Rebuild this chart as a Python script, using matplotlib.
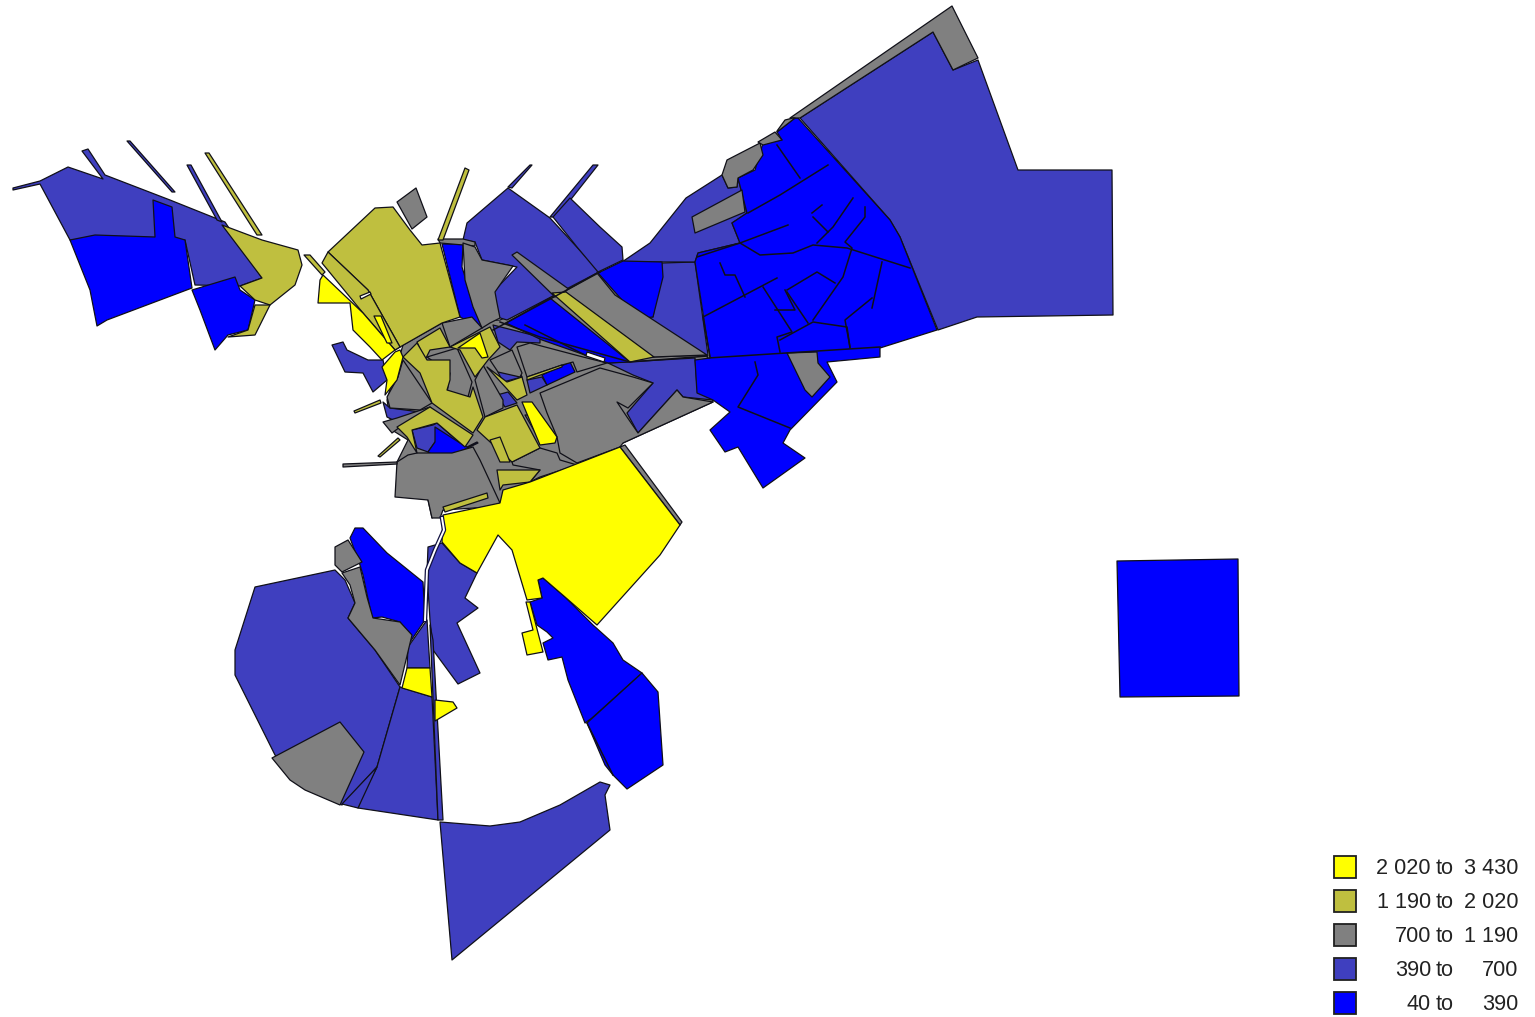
import matplotlib
matplotlib.use('Agg')
import matplotlib.pyplot as plt
from matplotlib.patches import Rectangle

plt.rcParams['font.family'] = ['Liberation Sans', 'DejaVu Sans']

# colores de las clases
AMARILLO = '#ffff00'
OLIVA = '#bfbf3f'
GRIS = '#808080'
AZUL_MEDIO = '#3f3fbf'
AZUL = '#0000ff'

# leyenda
clases_desde = ['2 020', '1 190', '700', '390', '40']
clases_hasta = ['3 430', '2 020', '1 190', '700', '390']
clases_color = [AMARILLO, OLIVA, GRIS, AZUL_MEDIO, AZUL]

# manzanas chicas del centro que van debajo de todo, tapan las juntas
zonas_fondo = [
    [(403, 345), (442, 323), (500, 320), (600, 275), (707, 355), (713, 402), (623, 443), (500, 503), (443, 510), (432, 518), (428, 500), (397, 462), (408, 440), (392, 430), (387, 400)],
]

zonas_azul_medio = [
    [(800, 118), (933, 32), (953, 70), (978, 60), (1018, 170), (1112, 170), (1113, 315), (977, 317), (938, 330), (900, 237), (890, 220)],
    [(13, 188), (40, 181), (68, 167), (103, 179), (82, 151), (88, 149), (105, 175), (170, 200), (225, 222), (262, 278), (240, 286), (195, 285), (185, 240), (70, 240), (40, 184), (13, 190)],
    [(127, 141), (130, 141), (175, 192), (172, 192)],
    [(187, 165), (191, 165), (222, 222), (217, 220)],
    [(467, 223), (508, 188), (550, 218), (598, 270), (597, 273), (507, 320), (497, 317), (493, 292), (517, 267), (482, 260), (475, 242), (463, 240)],
    [(508, 187), (530, 165), (532, 165), (512, 188)],
    [(550, 217), (593, 165), (598, 165), (557, 217)],
    [(570, 198), (600, 227), (622, 247), (623, 260), (598, 272), (577, 247), (553, 217)],
    [(493, 325), (540, 337), (540, 343), (517, 342), (510, 350), (498, 342)],
    [(662, 263), (695, 262), (708, 355), (653, 357), (620, 300), (653, 317)],
    [(622, 262), (650, 243), (686, 198), (722, 175), (728, 188), (737, 187), (738, 178), (747, 213), (732, 223), (740, 243), (698, 253), (695, 262), (660, 262)],
    [(608, 363), (695, 358), (697, 387), (713, 400), (683, 397), (677, 390), (638, 433), (627, 413), (653, 383), (633, 375)],
    [(527, 380), (542, 377), (547, 385), (530, 393)],
    [(498, 372), (517, 367), (522, 377), (503, 382)],
    [(497, 395), (508, 392), (517, 403), (505, 407)],
    [(332, 345), (343, 342), (347, 350), (368, 360), (383, 360), (387, 380), (373, 392), (363, 373), (345, 372)],
    [(383, 402), (390, 408), (420, 412), (420, 417), (397, 422), (387, 417)],
    [(412, 430), (433, 425), (437, 423), (460, 443), (435, 442), (428, 452), (417, 448)],
    [(438, 488), (458, 485), (462, 500), (443, 505)],
    [(255, 587), (335, 570), (345, 580), (355, 603), (348, 618), (375, 650), (400, 687), (377, 767), (342, 805), (305, 787), (275, 755), (235, 675), (235, 650)],
    [(400, 687), (432, 697), (438, 820), (358, 808), (362, 797), (377, 767)],
    [(377, 767), (358, 808), (342, 804)],
    [(427, 620), (430, 668), (407, 668), (408, 647)],
    [(428, 547), (442, 543), (460, 563), (477, 573), (465, 598), (478, 608), (457, 623), (480, 673), (458, 684), (433, 650), (430, 620), (427, 573)],
    [(430, 625), (433, 640), (443, 820), (438, 820)],
    [(440, 822), (490, 826), (520, 822), (560, 805), (600, 782), (610, 785), (605, 795), (610, 830), (452, 960)],
]

zonas_azul = [
    [(70, 240), (95, 235), (155, 237), (153, 200), (172, 207), (175, 237), (185, 240), (192, 288), (107, 320), (97, 326), (90, 290)],
    [(192, 290), (235, 277), (240, 290), (255, 300), (248, 330), (228, 335), (215, 350), (200, 310)],
    [(442, 244), (463, 244), (462, 267), (472, 300), (482, 328), (460, 317)],
    [(506, 323), (550, 298), (630, 362), (608, 363), (585, 355), (542, 340)],
    [(598, 273), (623, 261), (662, 262), (663, 277), (653, 317), (643, 318), (622, 300)],
    [(542, 375), (570, 362), (575, 372), (547, 385)],
    [(435, 427), (460, 443), (467, 447), (477, 442), (478, 443), (453, 455), (433, 455), (428, 452), (435, 442)],
    [(350, 538), (355, 528), (363, 528), (387, 553), (423, 582), (425, 620), (408, 645), (410, 635), (400, 622), (382, 617), (372, 618), (363, 575), (360, 565)],
    [(530, 602), (542, 598), (538, 580), (543, 578), (565, 597), (593, 625), (613, 643), (623, 660), (642, 673), (592, 718), (585, 723), (568, 680), (562, 657), (548, 660), (543, 643), (553, 638), (547, 632), (537, 625)],
    [(642, 673), (658, 692), (663, 765), (627, 789), (613, 775), (605, 765), (587, 723)],
    [(1117, 561), (1238, 559), (1239, 696), (1120, 697)],
    [(795, 118), (798, 118), (890, 220), (900, 237), (937, 330), (880, 348), (880, 357), (827, 362), (837, 382), (790, 430), (783, 443), (805, 458), (763, 488), (738, 447), (725, 452), (710, 430), (730, 412), (713, 400), (697, 393), (695, 360), (710, 358), (695, 262), (698, 253), (740, 243), (732, 223), (747, 213), (738, 178), (755, 170), (763, 143), (782, 140), (777, 132)],
]

zonas_gris = [
    [(790, 118), (952, 6), (978, 58), (953, 70), (933, 32), (800, 118)],
    [(397, 202), (416, 188), (427, 217), (412, 229)],
    [(438, 239), (463, 239), (475, 242), (475, 246), (440, 243)],
    [(463, 243), (475, 247), (482, 260), (513, 266), (495, 292), (497, 303), (500, 318), (490, 323), (482, 328), (473, 307), (465, 280)],
    [(512, 255), (517, 252), (570, 290), (555, 297)],
    [(567, 290), (597, 273), (615, 295), (707, 355), (653, 357), (565, 292)],
    [(540, 393), (600, 368), (633, 377), (653, 383), (628, 408), (617, 402), (627, 417), (638, 433), (677, 390), (683, 397), (713, 402), (623, 443), (620, 447), (577, 463), (560, 453), (557, 437), (547, 413)],
    [(517, 347), (530, 343), (583, 357), (607, 363), (577, 372), (573, 362), (562, 365), (527, 377)],
    [(442, 323), (472, 317), (482, 328), (450, 347)],
    [(427, 357), (457, 348), (472, 382), (468, 397), (447, 393), (450, 373)],
    [(475, 380), (483, 365), (503, 400), (503, 408), (485, 417)],
    [(490, 360), (512, 350), (522, 373), (520, 377), (498, 372)],
    [(403, 360), (432, 403), (420, 410), (390, 408), (387, 397), (398, 377)],
    [(383, 422), (397, 418), (430, 407), (442, 417), (400, 427), (392, 433)],
    [(395, 497), (397, 462), (408, 455), (417, 453), (452, 453), (473, 447), (480, 460), (500, 503), (490, 507), (443, 510), (440, 518), (432, 518), (428, 500)],
    [(343, 464), (397, 462), (397, 464), (343, 467)],
    [(512, 462), (540, 448), (557, 453), (560, 460), (577, 465), (540, 477), (530, 482), (540, 470), (513, 465)],
    [(620, 447), (625, 445), (682, 522), (680, 525)],
    [(335, 565), (335, 547), (348, 540), (362, 562), (342, 572)],
    [(342, 573), (360, 567), (367, 597), (373, 618), (400, 622), (412, 635), (400, 685), (375, 650), (348, 618), (355, 603), (350, 585)],
    [(272, 758), (340, 722), (364, 752), (340, 805), (305, 790), (290, 780)],
    [(787, 353), (817, 352), (818, 363), (830, 377), (812, 397), (805, 390)],
    [(692, 217), (742, 190), (745, 212), (695, 233)],
    [(722, 175), (727, 160), (760, 143), (763, 155), (753, 170), (738, 178), (737, 187), (728, 188)],
    [(758, 142), (775, 132), (782, 140), (763, 145)],
    [(777, 131), (785, 120), (793, 118), (795, 118), (777, 132)],
    [(525, 415), (530, 415), (540, 432), (535, 432)],
    [(368, 290), (375, 298), (400, 347), (395, 350)],
]

zonas_oliva = [
    [(222, 225), (262, 240), (298, 250), (302, 265), (295, 285), (270, 305), (255, 300), (240, 286), (262, 278)],
    [(255, 305), (270, 305), (255, 335), (228, 337), (248, 330)],
    [(205, 153), (209, 153), (262, 235), (257, 235)],
    [(328, 252), (375, 208), (393, 207), (410, 230), (422, 245), (440, 243), (460, 317), (442, 323), (400, 347), (368, 290)],
    [(322, 263), (328, 252), (368, 290), (400, 347), (395, 350), (363, 313)],
    [(438, 240), (465, 168), (469, 170), (443, 240)],
    [(552, 293), (566, 292), (654, 357), (630, 362)],
    [(527, 377), (562, 365), (562, 367), (527, 380)],
    [(417, 342), (440, 328), (450, 347), (430, 350), (425, 360)],
    [(403, 357), (417, 343), (427, 360), (450, 360), (450, 380), (447, 390), (470, 397), (473, 387), (483, 417), (473, 433), (432, 403), (420, 373)],
    [(450, 347), (490, 327), (500, 347), (488, 360), (475, 377), (460, 350)],
    [(487, 367), (507, 382), (522, 377), (527, 395), (517, 400)],
    [(485, 417), (517, 405), (540, 448), (512, 462), (477, 430)],
    [(397, 427), (430, 407), (473, 435), (465, 447), (437, 423), (412, 430), (417, 453), (407, 437)],
    [(443, 507), (487, 493), (488, 498), (445, 512)],
    [(497, 470), (540, 470), (530, 482), (503, 485), (500, 490)],
    [(490, 440), (500, 437), (510, 462), (500, 462)],
    [(354, 411), (380, 400), (381, 403), (355, 413)],
    [(378, 456), (398, 438), (400, 440), (380, 457)],
    [(304, 255), (310, 255), (325, 272), (322, 275)],
]

zonas_amarillo = [
    [(320, 280), (318, 303), (350, 303), (353, 330), (370, 347), (382, 360), (395, 350), (363, 313), (323, 275)],
    [(400, 350), (403, 357), (397, 380), (385, 395), (387, 380), (382, 367), (395, 352)],
    [(458, 348), (480, 333), (488, 357), (482, 358), (475, 348)],
    [(522, 402), (532, 402), (557, 437), (555, 443), (540, 445)],
    [(443, 515), (500, 503), (503, 490), (530, 482), (620, 447), (680, 525), (660, 555), (597, 625), (565, 597), (543, 578), (538, 580), (542, 598), (527, 600), (512, 550), (498, 535), (477, 573), (460, 563), (442, 542)],
    [(526, 602), (530, 602), (543, 652), (527, 655), (522, 633), (533, 630)],
    [(407, 668), (430, 668), (432, 697), (402, 688)],
    [(435, 700), (453, 702), (457, 708), (435, 721)],
    [(374, 316), (381, 316), (392, 343), (387, 343)],
]

huecos_blancos = [
    [(587, 352), (605, 358), (604, 362), (586, 356)],
    [(360, 296), (370, 292), (371, 294), (361, 299)],
]

# calles y limites interiores
limites = [
    [(697, 257), (740, 243), (760, 255), (793, 253), (813, 245), (847, 248), (910, 268)],
    [(777, 145), (800, 178)],
    [(748, 213), (780, 195), (828, 165)],
    [(740, 243), (788, 225)],
    [(853, 198), (833, 227), (817, 243)],
    [(865, 207), (865, 217), (845, 242), (852, 248), (843, 277), (813, 320)],
    [(812, 213), (822, 205)],
    [(813, 217), (828, 232)],
    [(882, 262), (872, 308)],
    [(872, 298), (845, 320), (850, 347)],
    [(720, 263), (725, 275), (735, 275), (745, 297)],
    [(703, 317), (777, 278)],
    [(703, 317), (710, 357)],
    [(763, 287), (792, 332), (777, 337), (780, 352)],
    [(775, 310), (795, 310), (785, 290)],
    [(787, 290), (817, 272), (835, 283)],
    [(787, 292), (808, 323)],
    [(780, 340), (813, 322), (847, 327), (850, 348)],
    [(708, 358), (880, 347)],
    [(755, 362), (758, 375), (738, 407), (790, 428)],
    [(493, 330), (600, 272)],
    [(500, 322), (540, 337), (630, 362), (708, 356)],
    [(525, 325), (585, 355)],
    [(587, 723), (613, 775)],
]
rio = [(442, 518), (444, 530), (435, 550), (427, 570), (425, 620)]


def dibuja_zonas(ax, zonas, color):
    for zona in zonas:
        xs, ys = zip(*zona)
        ax.fill(xs, ys, facecolor=color, edgecolor='#101018', linewidth=0.9, joinstyle='round')


fig = plt.figure(figsize=(15.35, 10.17), dpi=100)
ax = fig.add_axes([0, 0, 1, 1])
ax.set_xlim(0, 1535)
ax.set_ylim(1017, 0)
ax.axis('off')

dibuja_zonas(ax, zonas_fondo, GRIS)
dibuja_zonas(ax, zonas_azul_medio, AZUL_MEDIO)
dibuja_zonas(ax, zonas_azul, AZUL)
dibuja_zonas(ax, zonas_gris, GRIS)
dibuja_zonas(ax, zonas_oliva, OLIVA)
dibuja_zonas(ax, zonas_amarillo, AMARILLO)
dibuja_zonas(ax, huecos_blancos, 'white')

for limite in limites:
    xs, ys = zip(*limite)
    ax.plot(xs, ys, color='#101018', linewidth=1.1)

xs, ys = zip(*rio)
ax.plot(xs, ys, color='#101040', linewidth=3.2)
ax.plot(xs, ys, color='white', linewidth=1.4)

# leyenda
for i, color in enumerate(clases_color):
    y = 869 + i * 34
    ax.add_patch(Rectangle((1334, y - 13), 22, 22, facecolor=color, edgecolor='#202020', linewidth=1.3))
    ax.text(1431, y, clases_desde[i], ha='right', va='center', fontsize=15.6, color='#222222')
    ax.text(1436, y, 'to', ha='left', va='center', fontsize=15.6, color='#222222')
    ax.text(1518, y, clases_hasta[i], ha='right', va='center', fontsize=15.6, color='#222222')

fig.savefig('out.png', dpi=100)
